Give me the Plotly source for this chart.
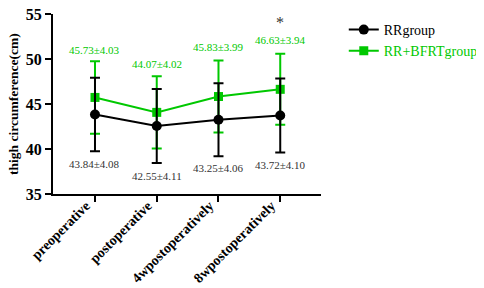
import plotly.graph_objects as go

categories = ["preoperative", "postoperative", "4wpostoperatively", "8wpostoperatively"]
rr_mean = [43.84, 42.55, 43.25, 43.72]
rr_sd = [4.08, 4.11, 4.06, 4.10]
bf_mean = [45.73, 44.07, 45.83, 46.63]
bf_sd = [4.03, 4.02, 3.99, 3.94]
rr_label_y = [38.3, 37.0, 37.9, 38.2]
bf_label_y = [51.0, 49.45, 51.3, 52.1]
star_y = 54.1
y_ticks = [35, 40, 45, 50, 55]

BLACK = "#000000"
GREEN = "#00c800"
FONT = "Liberation Serif"

x = list(range(len(categories)))

fig = go.Figure()
fig.add_trace(go.Scatter(
    x=x, y=bf_mean, mode="lines+markers",
    name="<span style='color:%s'>RR+BFRTgroup</span>" % GREEN,
    line=dict(color=GREEN, width=2),
    marker=dict(symbol="square", size=9, color=GREEN),
    error_y=dict(type="data", array=bf_sd, color=GREEN, thickness=2, width=5),
))
fig.add_trace(go.Scatter(
    x=x, y=rr_mean, mode="lines+markers", name="RRgroup",
    line=dict(color=BLACK, width=2),
    marker=dict(symbol="circle", size=10, color=BLACK),
    error_y=dict(type="data", array=rr_sd, color=BLACK, thickness=2, width=5),
))

for i in x:
    fig.add_annotation(x=i, y=bf_label_y[i], text="%.2f±%.2f" % (bf_mean[i], bf_sd[i]),
                       showarrow=False, font=dict(family=FONT, size=11, color=GREEN))
    fig.add_annotation(x=i, y=rr_label_y[i], text="%.2f±%.2f" % (rr_mean[i], rr_sd[i]),
                       showarrow=False, font=dict(family=FONT, size=11, color="#333333"))
fig.add_annotation(x=3, y=star_y, text="*", showarrow=False,
                   font=dict(family=FONT, size=16, color="#333333"))
fig.add_annotation(xref="paper", yref="paper", x=-0.185, y=0.5, xanchor="left", yanchor="middle",
                   text="<b>thigh circumference(cm)</b>", textangle=-90, showarrow=False,
                   font=dict(family=FONT, size=13.5, color=BLACK))

fig.update_layout(
    width=484, height=288,
    margin=dict(l=45, r=171, t=6, b=102, autoexpand=False),
    paper_bgcolor="white", plot_bgcolor="white",
    font=dict(family=FONT, color=BLACK),
    legend=dict(x=1.085, y=1.0, xanchor="left", yanchor="top",
                font=dict(family=FONT, size=14, color=BLACK),
                traceorder="reversed", itemwidth=30, tracegroupgap=6),
    showlegend=True,
)
fig.update_xaxes(
    range=[-0.68, 3.66], tickmode="array", tickvals=x,
    ticktext=["<b>%s</b>" % c for c in categories],
    tickangle=-45, showgrid=False, zeroline=False, automargin=False,
    showline=True, linecolor=BLACK, linewidth=2,
    ticks="outside", ticklen=6, tickwidth=2, tickcolor=BLACK,
    ticklabelstandoff=-10, ticklabelshift=-9,
    tickfont=dict(family=FONT, size=14, color=BLACK),
)
fig.update_yaxes(
    range=[35, 55], tickmode="array", tickvals=y_ticks,
    ticktext=["<b>%d</b>" % v for v in y_ticks],
    showgrid=False, zeroline=False, automargin=False,
    showline=True, linecolor=BLACK, linewidth=2, ticklabeloverflow="allow",
    ticks="outside", ticklen=6, tickwidth=2, tickcolor=BLACK,
    tickfont=dict(family=FONT, size=16, color=BLACK),
)

fig.write_html("out.html")
